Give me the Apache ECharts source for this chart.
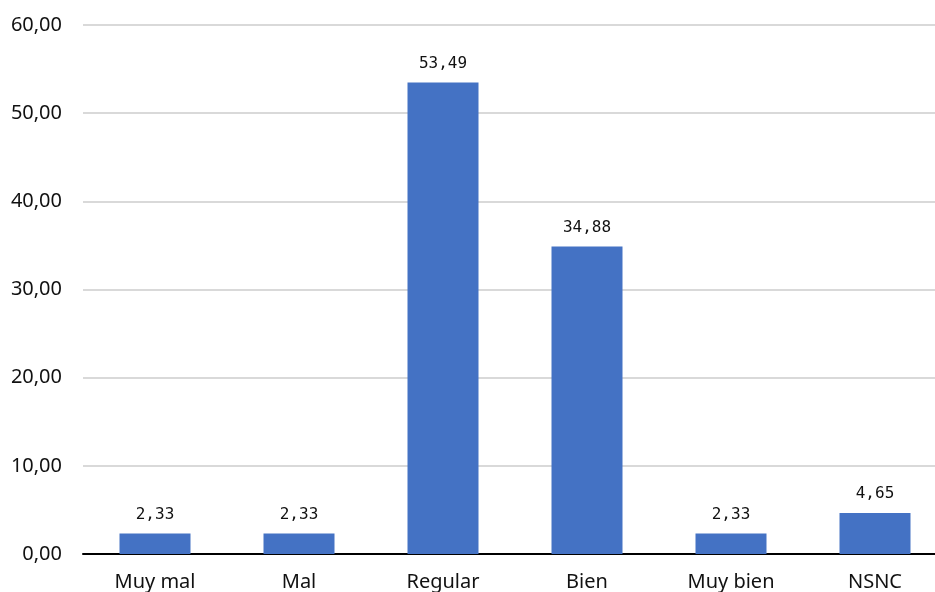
<!DOCTYPE html>
<html><head><meta charset="utf-8">
<script src="https://cdn.jsdelivr.net/npm/echarts@6/dist/echarts.min.js"></script>
<style>html,body{margin:0;padding:0;background:#fff}#c{width:935px;height:592px}</style>
</head><body><div id="c"></div>
<script>
const categories = ['Muy mal', 'Mal', 'Regular', 'Bien', 'Muy bien', 'NSNC'];
const values = [2.33, 2.33, 53.49, 34.88, 2.33, 4.65];
const yTicks = {min: 0, max: 60, interval: 10};
const fmt = v => v.toFixed(2).replace('.', ',');
const chart = echarts.init(document.getElementById('c'));
chart.setOption({
  animation: false,
  backgroundColor: '#fff',
  grid: {left: 83, top: 25, right: -12, bottom: 38, containLabel: false, outerBoundsMode: 'none'},
  xAxis: {
    type: 'category', data: categories,
    axisLine: {lineStyle: {color: '#000', width: 2}},
    axisTick: {show: false},
    axisLabel: {color: '#111', fontFamily: 'Noto Sans', fontSize: 20, margin: 18, interval: 0}
  },
  yAxis: {
    type: 'value', min: yTicks.min, max: yTicks.max, interval: yTicks.interval,
    axisLine: {show: false}, axisTick: {show: false},
    splitLine: {lineStyle: {color: '#d9d9d9', width: 2}},
    axisLabel: {color: '#111', fontFamily: 'Noto Sans', fontSize: 20, margin: 21, formatter: fmt}
  },
  series: [{
    type: 'bar', data: values, barWidth: 71,
    itemStyle: {color: '#4472C4'},
    label: {show: true, position: 'top', distance: 11, color: '#111',
      fontFamily: 'DejaVu Sans Mono', fontSize: 16, formatter: p => fmt(p.value)}
  }]
});
</script></body></html>
